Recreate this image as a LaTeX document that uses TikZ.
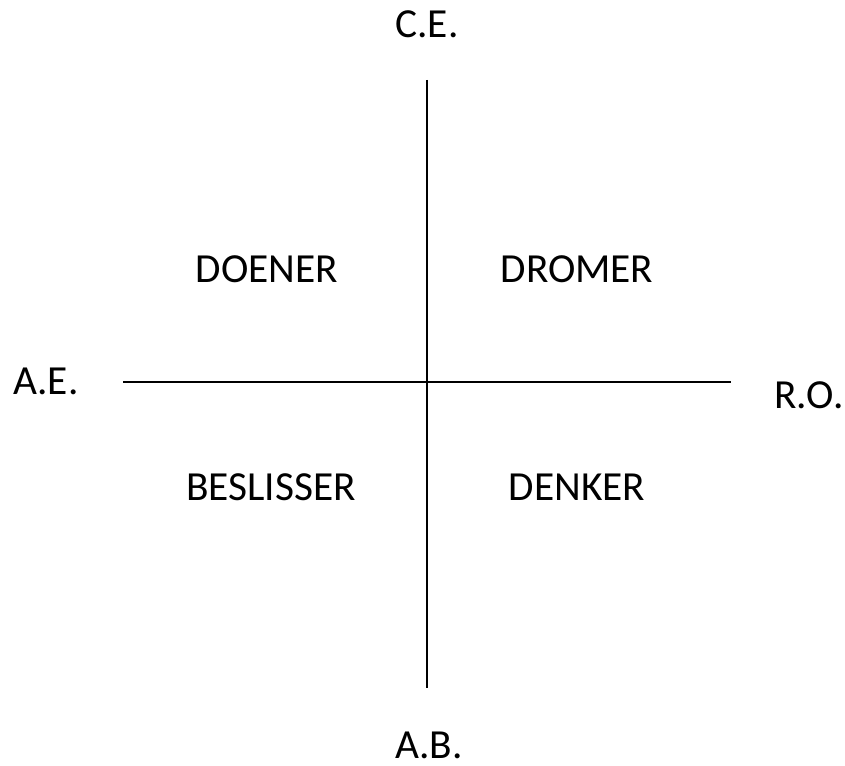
\documentclass[tikz,border=0pt]{standalone}
\usepackage{fontspec}
\setmainfont{Carlito}
\tikzset{
    axis line/.style={line width=1pt, black},
    quadrant/.style={font=\fontsize{31}{37}\selectfont, inner sep=0pt, anchor=base},
    pole/.style={font=\fontsize{31}{37}\selectfont, inner sep=0pt, anchor=base}
}
\begin{document}
\begin{tikzpicture}[x=0.75pt, y=-0.75pt]
    \useasboundingbox (0,0) rectangle (845,766);
    % axes
    \coordinate (Top) at (427,80);
    \coordinate (Bottom) at (427,688);
    \coordinate (Left) at (123,382);
    \coordinate (Right) at (731,382);
    \draw [axis line] (Top) -- (Bottom);
    \draw [axis line] (Left) -- (Right);
    % pole labels
    \node [pole] (CE) at (427,38) {C.E.};
    \node [pole] (AB) at (429,758) {A.B.};
    \node [pole] (AE) at (46,394) {A.E.};
    \node [pole] (RO) at (809,408) {R.O.};
    % quadrants
    \node [quadrant] (doener) at (267,283) {DOENER};
    \node [quadrant] (dromer) at (577,283) {DROMER};
    \node [quadrant] (beslisser) at (271,500) {BESLISSER};
    \node [quadrant] (denker) at (577,500) {DENKER};
\end{tikzpicture}
\end{document}
